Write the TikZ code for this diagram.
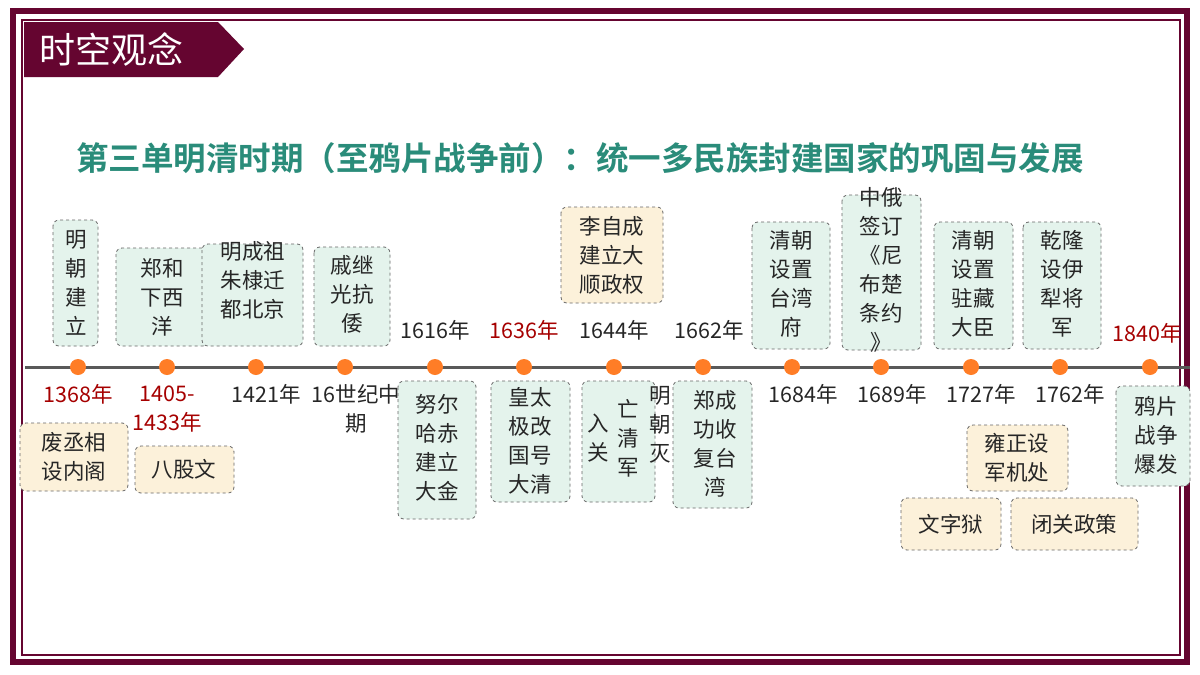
\documentclass[tikz,border=0pt]{standalone}
\usepackage{fontspec}
\setmainfont{Noto Sans CJK SC}
\newfontfamily\cjkb{Noto Sans CJK SC Bold}
\begin{document}
\begin{tikzpicture}[x=1pt,y=-1pt,
 g/.style={draw=gray!80!black,dashed,rounded corners=6pt,fill=mint,line width=0.8pt},
 yb/.style={draw=gray!80!black,dashed,rounded corners=6pt,fill=cream,line width=0.8pt},
 t/.style={font=\fontsize{21.5}{29}\selectfont,align=center,inner sep=0pt,text=black!85},
 r/.style={t,text=red!65!black},
 dot/.style={circle,fill=orange!80!red!85,minimum size=16pt,inner sep=0pt}]
\definecolor{wine}{HTML}{650530}
\definecolor{teal2}{HTML}{2A8C7A}
\definecolor{mint}{HTML}{E4F3EC}
\definecolor{cream}{HTML}{FCF1DA}
\useasboundingbox (0,0) rectangle (1200,675);
\fill[white] (0,0) rectangle (1200,675);
\draw[wine,line width=6pt] (13,11) rectangle (1187,662);
\draw[wine,line width=1.5pt] (22,20) rectangle (1180,655);
\fill[wine] (24,22) -- (218,22) -- (244,49) -- (218,77) -- (24,77) -- cycle;
\node[font=\fontsize{36}{36}\selectfont,text=white,anchor=west] (ban) at (36,49) {时空观念};
\node[font=\cjkb\fontsize{32.5}{32.5}\selectfont,text=teal2] (title) at (580,158) {第三单明清时期（至鸦片战争前）：统一多民族封建国家的巩固与发展};
% boxes above
\filldraw[g] (53,220) rectangle (98,346); \node[t] (b1) at (76,283) {明\\朝\\建\\立};
\filldraw[g] (116,248) rectangle (209,346); \node[t] (b2) at (162,297) {郑和\\下西\\洋};
\filldraw[g] (202,244) rectangle (303,346); \node[t] (b3) at (253,280) {明成祖\\朱棣迁\\都北京};
\filldraw[g] (314,247) rectangle (390,346); \node[t] (b4) at (352,294) {戚继\\光抗\\倭};
\filldraw[yb] (561,207) rectangle (663,303); \node[t] (b5) at (612,255) {李自成\\建立大\\顺政权};
\filldraw[g] (752,222) rectangle (830,349); \node[t] (b6) at (791,284) {清朝\\设置\\台湾\\府};
\filldraw[g] (842,195) rectangle (921,350); \node[t] (b7) at (881,270) {中俄\\签订\\《尼\\布楚\\条约\\》};
\filldraw[g] (934,222) rectangle (1013,349); \node[t] (b8) at (973,284) {清朝\\设置\\驻藏\\大臣};
\filldraw[g] (1023,222) rectangle (1101,349); \node[t] (b9) at (1062,284) {乾隆\\设伊\\犁将\\军};
% timeline
\coordinate (L0) at (25,367); \coordinate (L1) at (1190,367);
\draw[gray!70!black,line width=3pt] (L0) -- (L1);
\foreach \x [count=\i] in {78,167,256,345,435,524,614,703,792,881,971,1060,1150}
  \node[dot] (d\i) at (\x,367) {};
% years
\node[t] (y5) at (435,330) {1616年};
\node[r] (y6) at (524,330) {1636年};
\node[t] (y7) at (614,330) {1644年};
\node[t] (y8) at (709,330) {1662年};
\node[r] (y13) at (1147,333) {1840年};
\node[r] (y1) at (78,394) {1368年};
\node[r] (y2) at (167,409) {1405-\\1433年};
\node[t] (y3) at (266,394) {1421年};
\node[t] (y4) at (356,409) {16世纪中\\期};
\node[t] (y9) at (803,394) {1684年};
\node[t] (y10) at (892,394) {1689年};
\node[t] (y11) at (981,394) {1727年};
\node[t] (y12) at (1070,394) {1762年};
% boxes below
\filldraw[yb] (20,423) rectangle (128,491); \node[t] (c1) at (74,457) {废丞相\\设内阁};
\filldraw[yb] (135,446) rectangle (234,493); \node[t] (c2) at (184,469) {八股文};
\filldraw[g] (398,381) rectangle (476,519); \node[t] (c3) at (437,448) {努尔\\哈赤\\建立\\大金};
\filldraw[g] (491,381) rectangle (570,502); \node[t] (c4) at (530,441) {皇太\\极改\\国号\\大清};
\filldraw[g] (582,381) rectangle (655,502);
\node[t] (c5a) at (598,438) {入\\关};
\node[t] (c5b) at (628,438) {亡\\清\\军};
\node[t] (c5c) at (660,425) {明\\朝\\灭};
\filldraw[g] (673,381) rectangle (752,508); \node[t] (c6) at (715,444) {郑成\\功收\\复台\\湾};
\filldraw[g] (1116,386) rectangle (1190,486); \node[t] (c7) at (1156,435) {鸦片\\战争\\爆发};
\filldraw[yb] (967,425) rectangle (1068,491); \node[t] (c8) at (1017,458) {雍正设\\军机处};
\filldraw[yb] (901,498) rectangle (1001,550); \node[t] (c9) at (951,524) {文字狱};
\filldraw[yb] (1011,498) rectangle (1138,550); \node[t] (c10) at (1074,524) {闭关政策};
\end{tikzpicture}
\end{document}
